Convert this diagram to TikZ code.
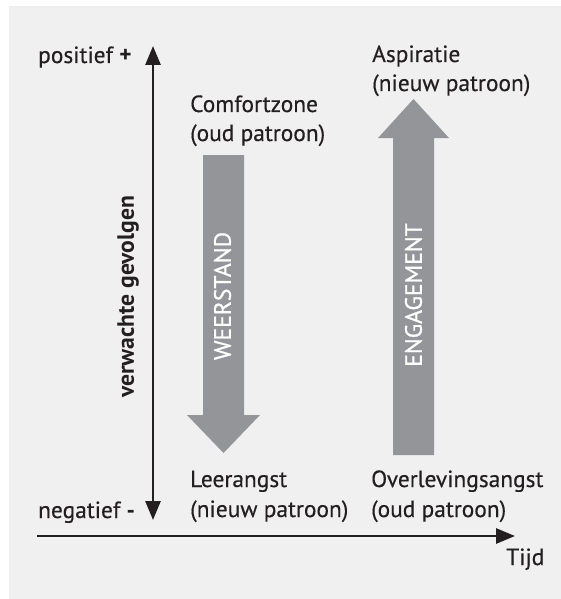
\documentclass[tikz,border=0pt]{standalone}
\usepackage{fontspec}
\setmainfont{PT Sans}
\newfontfamily\regfont{PT Sans}[FakeBold=0.35]
\newfontfamily\semifont{PT Sans}[FakeBold=0.9]
\usetikzlibrary{arrows.meta}
\definecolor{bgc}{HTML}{F0F0F0}
\definecolor{txc}{HTML}{231F20}
\definecolor{arc}{HTML}{939598}
\tikzset{
  lbl/.style={anchor=base west, inner sep=0pt, text=txc, font=\regfont\fontsize{23.4}{29}\selectfont},
  axis/.style={draw=txc, line width=2.8pt, >={Triangle[width=15pt,length=19pt]}},
  bigarrow/.style={fill=arc, draw=none},
  inlbl/.style={inner sep=0pt, text=white, rotate=90, font=\semifont\fontsize{23.6}{29}\selectfont},
}
\begin{document}
\begin{tikzpicture}[x=1pt,y=-1pt]
\useasboundingbox (0,0) rectangle (561,599);
\fill[bgc] (9,6) rectangle (561,599);
% axes
\coordinate (ytop) at (153,46);
\coordinate (ybot) at (153,520);
\coordinate (xl) at (37,536);
\coordinate (xr) at (515,536);
\draw[axis, <->] (ybot) -- (ytop);
\draw[axis, ->] (xl) -- (xr);
% gray arrows
\fill[bigarrow] (203,155) -- (244,155) -- (244,415) -- (260,415) -- (223.5,453) -- (187,415) -- (203,415) -- cycle;
\fill[bigarrow] (393,455) -- (434,455) -- (434,138) -- (449,138) -- (413.5,99) -- (378,138) -- (393,138) -- cycle;
\node[inlbl] (weer) at (222.5,296) {WEERSTAND};
\node[inlbl] (eng) at (413.5,295) {ENGAGEMENT};
\node[inner sep=0pt, text=txc, rotate=90, font=\fontsize{23.6}{29}\selectfont\bfseries] (verw) at (128,297) {verwachte gevolgen};
% labels
\node[lbl] (pos) at (38,63) {positief {\normalfont\bfseries+}};
\node[lbl] (neg) at (38,518) {negatief {\normalfont\bfseries-}};
\node[lbl] (comf) at (190,112) {Comfortzone};
\node[lbl] (comf2) at (190,141) {(oud patroon)};
\node[lbl] (asp) at (372,62) {Aspiratie};
\node[lbl] (asp2) at (372,91) {(nieuw patroon)};
\node[lbl] (leer) at (190,487) {Leerangst};
\node[lbl] (leer2) at (190,517) {(nieuw patroon)};
\node[lbl] (over) at (371,487) {Overlevingsangst};
\node[lbl] (over2) at (371,517) {(oud patroon)};
\node[lbl] (tijd) at (506,565) {Tijd};
\end{tikzpicture}
\end{document}
